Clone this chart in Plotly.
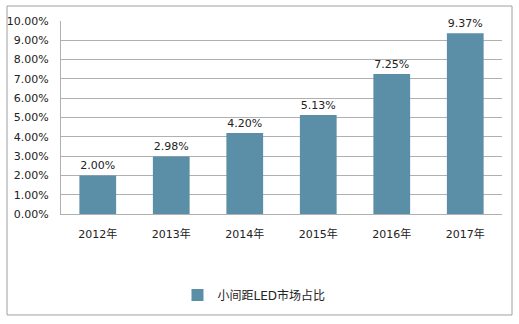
import plotly.graph_objects as go

years = ["2012年", "2013年", "2014年", "2015年", "2016年", "2017年"]
share = [0.0200, 0.0298, 0.0420, 0.0513, 0.0725, 0.0937]
series_name = "小间距LED市场占比"

bar_color = "#5B8FA8"
font_family = "DejaVu Sans, Noto Sans CJK SC, sans-serif"

fig = go.Figure()
fig.add_trace(go.Bar(
    x=years,
    y=share,
    name=series_name,
    marker=dict(color=bar_color, line=dict(width=0)),
    text=[f"{v:.2%}" for v in share],
    textposition="outside",
    textfont=dict(size=11, color="#222222"),
    cliponaxis=False,
))

fig.update_layout(
    width=519,
    height=324,
    margin=dict(l=61, r=17, t=21, b=110),
    paper_bgcolor="white",
    plot_bgcolor="white",
    font=dict(family=font_family, size=11, color="#222222"),
    bargap=0.5,
    showlegend=True,
    legend=dict(
        orientation="h",
        x=0.4376, xanchor="center",
        y=-0.42, yanchor="middle",
        font=dict(size=12, color="#222222"),
        itemwidth=30,
    ),
    xaxis=dict(
        showgrid=False,
        showline=True,
        linecolor="#b0b0b0",
        linewidth=1,
        ticks="outside",
        ticklen=10,
        tickcolor="rgba(0,0,0,0)",
        tickfont=dict(size=11),
        automargin=False,
    ),
    yaxis=dict(
        range=[0, 0.1],
        dtick=0.01,
        tickformat=".2%",
        showgrid=True,
        gridcolor="#b0b0b0",
        gridwidth=1,
        showline=True,
        linecolor="#b0b0b0",
        linewidth=1,
        ticks="outside",
        ticklen=9,
        tickcolor="rgba(0,0,0,0)",
        zeroline=False,
        tickfont=dict(size=11),
        automargin=False,
    ),
    shapes=[dict(
        type="rect",
        xref="paper", yref="paper",
        x0=-0.1224, x1=1.0227, y0=-0.5233, y1=1.0777,
        line=dict(color="#a0a0a0", width=1),
        fillcolor="rgba(0,0,0,0)",
        layer="below",
    )],
)

fig.write_html("out.html")
